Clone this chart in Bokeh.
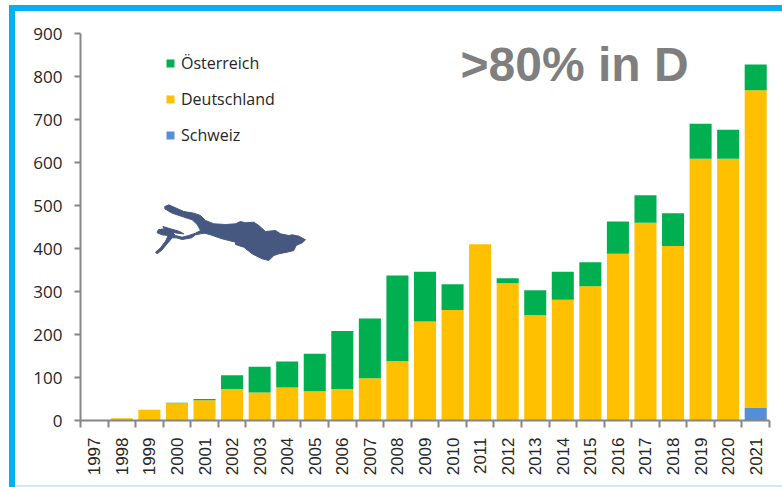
from bokeh.plotting import figure
from bokeh.models import (Range1d, FixedTicker, Legend, LegendItem, ColumnDataSource)
from bokeh.core.properties import value
from bokeh.embed import file_html
from bokeh.resources import INLINE

years = list(range(1997, 2022))
schweiz = [0]*24 + [30]
deutschland = [0, 5, 25, 40, 47, 73, 65, 77, 68, 73, 98, 138, 230, 257, 410, 319, 245, 281, 312, 388, 460, 406, 609, 609, 738]
oesterreich = [0, 0, 0, 1, 3, 32, 60, 60, 87, 135, 139, 199, 116, 60, 0, 12, 58, 65, 56, 75, 64, 76, 81, 67, 60]

# Bodensee outline in pixels at 3x
lake_west_top = [(28,18),(40,13),(60,22),(85,33),(115,38),(135,45),(150,60),(175,70),(210,72)]
lake_east = [(30,55),(45,48),(60,52),(85,50),(100,60),(120,78),(150,75),(165,85),(190,90),(200,88),(220,92),(240,103),
             (230,112),(212,120),(205,135),(185,140),(160,145),(145,150),(130,165),(110,160),(80,145),(55,125),(30,117)]
lake_west_bottom = [(240,125),(200,115),(165,103),(148,98),(135,100),(120,103),(108,112),(80,117),(62,112),(50,112),
                    (35,130),(20,148),(5,160),(0,155),(15,142),(30,122),(38,105),(20,103),(5,97),(8,88),(25,85),(45,90),
                    (25,83),(22,78),(45,85),(70,92),(85,100),(65,98),(50,95),(60,105),(80,110),(100,105),(120,98),(135,90),
                    (125,72),(110,58),(80,48),(50,38),(28,25)]
lake_x = [155 + a/3 for a, b in lake_west_top] + [225 + a/3 for a, b in lake_east] + [155 + a/3 for a, b in lake_west_bottom]
lake_y = [200 + b/3 for a, b in lake_west_top] + [205 + b/3 for a, b in lake_east] + [200 + b/3 for a, b in lake_west_bottom]

W, H = 782, 487
L, R, T, B = 80, 13, 33, 67
p = figure(width=W, height=H, output_backend="svg", toolbar_location=None,
           x_range=Range1d(1996.5, 2021.5), y_range=Range1d(0, 900),
           min_border_left=L, min_border_right=R, min_border_top=T, min_border_bottom=B)
p.extra_x_ranges["px"] = Range1d(L, W - R)
p.extra_y_ranges["px"] = Range1d(H - B, T)
p.grid.visible = False
p.outline_line_color = None
p.background_fill_color = "white"
p.border_fill_color = None

CYAN = "#00b0f0"
PALE = "#c6eefb"
bars = f"linear-gradient({CYAN},{CYAN})"
pale = f"linear-gradient({PALE},{PALE})"
p.styles = {
    "background-color": "white",
    "background-image": ",".join([bars, bars, pale]),
    "background-repeat": "no-repeat",
    "background-size": f"6px {H-5}px, {W-9}px 6px, {W-15}px 2px",
    "background-position": f"9px 5px, 9px 5px, 15px {H-2}px",
}

GRAY = "#868686"
xa, ya = p.xaxis[0], p.yaxis[0]
xa.ticker = FixedTicker(ticks=years, minor_ticks=[y - 0.5 for y in years] + [years[-1] + 0.5])
xa.major_label_overrides = {y: str(y) for y in years}
xa.major_label_orientation = 1.5708
xa.major_tick_line_color = None
xa.major_tick_out = 0
xa.major_tick_in = 0
xa.minor_tick_out = 7
xa.minor_tick_in = 0
xa.minor_tick_line_color = GRAY
xa.minor_tick_line_width = 2
xa.axis_line_color = GRAY
xa.axis_line_width = 2
xa.major_label_text_font = "Liberation Sans"
xa.major_label_text_font_size = "17px"
xa.major_label_text_color = "#262626"
xa.major_label_standoff = 10

ya.ticker = FixedTicker(ticks=list(range(0, 901, 100)), minor_ticks=[])
ya.major_tick_out = 6
ya.major_tick_in = 0
ya.major_tick_line_color = GRAY
ya.major_tick_line_width = 2
ya.axis_line_color = GRAY
ya.axis_line_width = 2
ya.major_label_text_font = "Open Sans"
ya.major_label_text_font_size = "17px"
ya.major_label_text_color = "#262626"
ya.major_label_standoff = 12

src = ColumnDataSource(dict(x=years, Schweiz=schweiz, Deutschland=deutschland, Oesterreich=oesterreich))
rs = p.vbar_stack(["Schweiz", "Deutschland", "Oesterreich"], x="x", width=0.8, source=src,
                  color=["#558ed5", "#ffc000", "#00b050"], line_color=None)

p.patch(lake_x, lake_y, fill_color="#465880", line_color="#465880", line_width=1, x_range_name="px", y_range_name="px")

p.text(x=[460], y=[64], text=[">80% in D"], text_font=value("Liberation Sans"), text_font_style="bold",
       text_font_size="48px", text_color="#7f7f7f", text_baseline="middle", text_align="left",
       x_range_name="px", y_range_name="px")

legend = Legend(items=[LegendItem(label="Österreich", renderers=[rs[2]]),
                       LegendItem(label="Deutschland", renderers=[rs[1]]),
                       LegendItem(label="Schweiz", renderers=[rs[0]])],
                location=(85, 274), background_fill_alpha=0, border_line_color=None,
                glyph_width=10, glyph_height=10, label_standoff=6, spacing=14, padding=0, margin=0,
                label_text_font="Open Sans", label_text_font_size="16px", label_text_color="#262626")
p.add_layout(legend, "center")

open("out.html", "w").write(file_html(p, INLINE))
